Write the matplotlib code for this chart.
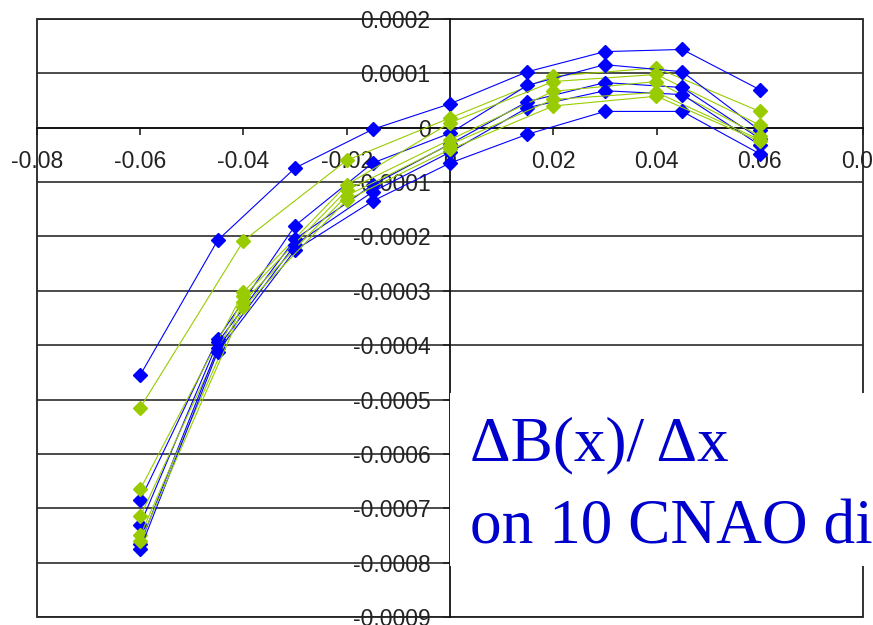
import matplotlib
matplotlib.use("Agg")
import matplotlib.pyplot as plt
from matplotlib.patches import Rectangle
from matplotlib.ticker import FuncFormatter, MultipleLocator

# measurement positions
x_blue = [-0.06, -0.045, -0.03, -0.015, 0.0, 0.015, 0.03, 0.045, 0.06]
x_green = [-0.06, -0.04, -0.02, 0.0, 0.02, 0.04, 0.06]

# dB/dx values, in units of 1e-4
blue_1 = [-4.55, -2.07, -0.74, -0.03, 0.44, 1.03, 1.40, 1.44, 0.70]
blue_2 = [-6.85, -3.88, -1.80, -0.65, -0.10, 0.78, 1.16, 1.03, -0.05]
blue_3 = [-7.30, -3.95, -2.05, -1.05, -0.30, 0.48, 0.83, 0.74, -0.20]
blue_4 = [-7.65, -4.05, -2.15, -1.18, -0.45, 0.37, 0.68, 0.61, -0.32]
blue_5 = [-7.75, -4.12, -2.25, -1.35, -0.65, -0.12, 0.30, 0.30, -0.48]

green_1 = [-5.15, -2.08, -0.60, 0.18, 0.95, 1.10, 0.30]
green_2 = [-6.65, -3.02, -1.05, 0.09, 0.85, 0.98, 0.05]
green_3 = [-7.15, -3.10, -1.15, -0.22, 0.67, 0.85, -0.15]
green_4 = [-7.50, -3.20, -1.25, -0.31, 0.52, 0.65, -0.22]
green_5 = [-7.60, -3.30, -1.33, -0.40, 0.40, 0.58, -0.25]

blues = [blue_1, blue_2, blue_3, blue_4, blue_5]
greens = [green_1, green_2, green_3, green_4, green_5]

BLUE = "#0000FF"
GREEN = "#99CC00"

fig = plt.figure(figsize=(8.73, 6.25), dpi=100)
ax = fig.add_axes([37 / 873, 1 - 617 / 625, 826 / 873, 598 / 625])

ax.set_xlim(-0.08, 0.08)
ax.set_ylim(-0.0009, 0.0002)

# horizontal gridlines
ax.yaxis.set_major_locator(MultipleLocator(0.0001))
ax.xaxis.set_major_locator(MultipleLocator(0.02))
ax.grid(axis="y", color="#1a1a1a", linewidth=1.1, zorder=0)

for b, g in zip(blues, greens):
    ax.plot(x_blue, [v * 1e-4 for v in b], color=BLUE, lw=0.8, marker="D",
            ms=7.5, mec=BLUE, mfc=BLUE, zorder=3, clip_on=False)
    ax.plot(x_green, [v * 1e-4 for v in g], color=GREEN, lw=0.8, marker="D",
            ms=7.5, mec=GREEN, mfc=GREEN, zorder=3, clip_on=False)

# axes crossing at the origin, plus the plot frame
ax.spines["left"].set_position(("data", 0))
ax.spines["bottom"].set_position(("data", 0))
ax.spines["top"].set_visible(False)
ax.spines["right"].set_visible(False)
for s in ("left", "bottom"):
    ax.spines[s].set_linewidth(1.3)
    ax.spines[s].set_color("#111111")
    ax.spines[s].set_zorder(2)
ax.add_patch(Rectangle((0, 0), 1, 1, transform=ax.transAxes, fill=False,
                       edgecolor="#222222", linewidth=1.3, zorder=2, clip_on=False))

fmt = FuncFormatter(lambda v, pos: "0" if abs(v) < 1e-12 else "%g" % round(v, 6))
ax.xaxis.set_major_formatter(fmt)
ax.yaxis.set_major_formatter(fmt)
ax.tick_params(axis="x", direction="out", length=5, width=1.2, pad=11,
               labelsize=16.5, colors="#222222")
ax.tick_params(axis="y", direction="out", length=5, width=1.2, pad=9,
               labelsize=16.5, colors="#222222")
for lbl in ax.get_xticklabels() + ax.get_yticklabels():
    lbl.set_fontfamily("Liberation Sans")

# annotation box
fig.patches.append(Rectangle((450 / 873, 1 - 566 / 625), 430 / 873, 173 / 625,
                             transform=fig.transFigure, facecolor="white",
                             edgecolor="none", zorder=5))
fig.text(470 / 873, 1 - 460 / 625, "\u0394B(x)/ \u0394x", color="#0000CC",
         fontsize=45.5, family="Liberation Serif", va="baseline", zorder=6)
fig.text(470 / 873, 1 - 543 / 625, "on 10 CNAO di", color="#0000CC",
         fontsize=45.5, family="Liberation Serif", va="baseline", zorder=6)

fig.savefig("out.png", dpi=100)
